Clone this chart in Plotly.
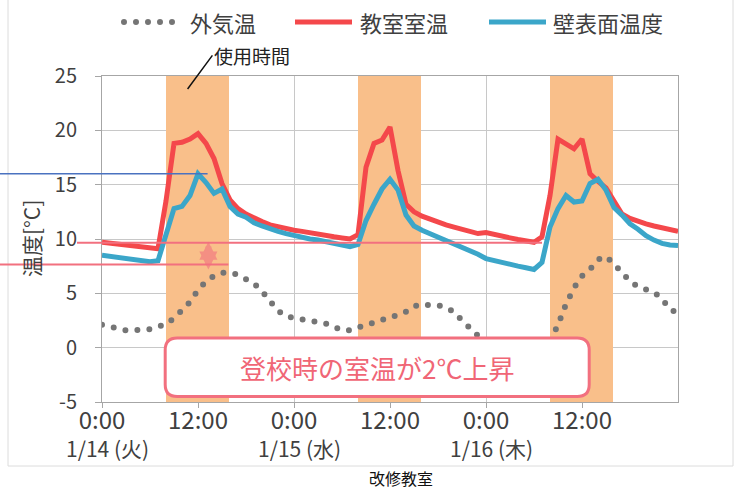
import plotly.graph_objects as go

# ---- data -------------------------------------------------------------
# elapsed hours from 1/14 0:00
hours = list(range(0, 73))

outdoor = [2.1, 1.9, 1.8, 1.6, 1.6, 1.6, 1.7, 1.9, 2.2, 2.7, 3.5, 4.2,
           5.3, 6.1, 6.6, 6.9, 6.9, 6.7, 6.3, 5.9, 5.2, 4.2, 3.4, 2.9,
           2.7, 2.6, 2.5, 2.4, 2.2, 1.9, 1.6, 1.6, 1.9, 2.1, 2.3, 2.6,
           2.8, 3.0, 3.3, 3.8, 4.0, 3.9, 3.9, 3.7, 3.3, 2.5, 1.8, 1.0,
           0.4, 0.0, -0.3, -0.5, -0.6, -0.5, -0.4, -0.2, 0.6, 2.1, 4.0, 5.5,
           6.6, 7.2, 8.1, 8.4, 7.7, 6.9, 6.1, 5.6, 5.4, 5.1, 4.5, 3.5,
           3.2]

room = [9.7, 9.6, 9.5, 9.4, 9.3, 9.2, 9.15, 9.1, 13.5, 18.8, 18.9, 19.2,
        19.7, 18.8, 17.4, 15.1, 13.6, 12.8, 12.3, 11.9, 11.6, 11.3, 11.1, 10.9,
        10.8, 10.7, 10.55, 10.4, 10.3, 10.2, 10.1, 10.0, 10.4, 16.6, 18.8, 19.1,
        20.3, 16.3, 13.2, 12.5, 12.1, 11.8, 11.5, 11.3, 11.1, 10.9, 10.7, 10.5,
        10.6, 10.4, 10.25, 10.1, 9.95, 9.85, 9.7, 10.2, 14.0, 19.2, 18.7, 18.3,
        19.2, 16.0, 15.3, 14.7, 13.5, 12.3, 11.9, 11.6, 11.4, 11.2, 11.05, 10.9,
        10.7]

wall = [8.5, 8.4, 8.3, 8.2, 8.1, 8.0, 7.9, 8.0, 10.3, 12.8, 13.0, 14.0,
        16.0, 15.2, 14.2, 14.6, 13.0, 12.3, 12.0, 11.5, 11.2, 10.9, 10.7, 10.5,
        10.3, 10.15, 10.0, 9.9, 9.75, 9.6, 9.45, 9.3, 9.5, 11.7, 13.2, 14.6,
        15.5, 14.5, 12.2, 11.2, 10.8, 10.5, 10.2, 9.9, 9.6, 9.2, 8.9, 8.6,
        8.2, 8.0, 7.8, 7.65, 7.5, 7.35, 7.2, 7.85, 11.1, 12.8, 14.0, 13.4,
        13.5, 15.1, 15.5, 14.5, 12.9, 12.2, 11.4, 10.9, 10.3, 9.9, 9.6, 9.45,
        9.4]

# classroom usage periods (start, end) in elapsed hours
usage_start = [8.0, 32.0, 56.0]
usage_end = [15.9, 39.9, 63.9]

tick_hours = [0, 12, 24, 36, 48, 60]
tick_text = ["0:00", "12:00", "0:00", "12:00", "0:00", "12:00"]
day_hours = [0, 24, 48]
day_labels = ["1/14 (火)", "1/15 (水)", "1/16 (木)"]
temp_ticks = [-5, 0, 5, 10, 15, 20, 25]

series_names = ["外気温", "教室室温", "壁表面温度"]

# reference levels for the callouts
arrival_before = 7.65   # room temperature at arrival, before renovation
arrival_after = 9.65    # room temperature at arrival, after renovation
wall_peak = 16.0

X_MAX = 72
Y_MIN, Y_MAX = -5, 25

# ---- styling ----------------------------------------------------------
FONT = "Noto Sans CJK JP"
RED = "#f4484b"
BLUE = "#3ba6c9"
GRAY = "#757575"
ORANGE = "#f9bf8a"
PINK = "#f2707f"
TXT = "#404040"
DOT_DASH = "5px,7px"   # restyled to round dots after rendering

ML, MR, MT, MB = 102, 61, 76, 89
W, H = 739, 491
PW, PH = W - ML - MR, H - MT - MB


def px_x(px):
    return (px - ML) / PW


def px_y(py):
    return (H - MB - py) / PH


def hx(h):
    return h / X_MAX


def ty(t):
    return (t - Y_MIN) / (Y_MAX - Y_MIN)


fig = go.Figure()

# usage time bands
fig.add_trace(go.Bar(
    x=[(s + e) / 2 for s, e in zip(usage_start, usage_end)],
    y=[Y_MAX - Y_MIN] * len(usage_start),
    base=[Y_MIN] * len(usage_start),
    width=[e - s for s, e in zip(usage_start, usage_end)],
    marker=dict(color=ORANGE, line=dict(width=0)),
    showlegend=False, hoverinfo="skip",
))

fig.add_trace(go.Scatter(
    x=hours, y=outdoor, mode="lines", name=series_names[0],
    line=dict(color=GRAY, width=6, dash=DOT_DASH), showlegend=False,
))
fig.add_trace(go.Scatter(
    x=hours, y=room, mode="lines", name=series_names[1],
    line=dict(color=RED, width=5), showlegend=False,
))
fig.add_trace(go.Scatter(
    x=hours, y=wall, mode="lines", name=series_names[2],
    line=dict(color=BLUE, width=5), showlegend=False,
))

shapes = []
annotations = []

# chart frame
FRAME = "#dcdcdc"
shapes.append(dict(type="line", xref="paper", yref="paper",
                   x0=px_x(8), x1=px_x(8), y0=px_y(466), y1=px_y(0),
                   line=dict(color=FRAME, width=1)))
shapes.append(dict(type="line", xref="paper", yref="paper",
                   x0=px_x(733), x1=px_x(733), y0=px_y(466), y1=px_y(0),
                   line=dict(color=FRAME, width=1)))
shapes.append(dict(type="line", xref="paper", yref="paper",
                   x0=px_x(8), x1=px_x(733), y0=px_y(466), y1=px_y(466),
                   line=dict(color=FRAME, width=1)))

# custom legend
legend_items = [
    (124, 182, 188, dict(color=GRAY, width=6, dash=DOT_DASH)),
    (295, 352, 358, dict(color=RED, width=5)),
    (489, 546, 551, dict(color=BLUE, width=5)),
]
for name, (a, b, t, ln) in zip(series_names, legend_items):
    shapes.append(dict(type="line", xref="paper", yref="paper",
                       x0=px_x(a), x1=px_x(b), y0=px_y(22), y1=px_y(22),
                       line=ln))
    annotations.append(dict(xref="paper", yref="paper", x=px_x(t), y=px_y(22),
                            text=name, showarrow=False, xanchor="left",
                            yanchor="middle",
                            font=dict(family=FONT, size=22, color=TXT)))

# reference lines reaching into the left margin
shapes.append(dict(type="line", xref="paper", yref="paper",
                   x0=px_x(0), x1=hx(13.2), y0=ty(wall_peak), y1=ty(wall_peak),
                   line=dict(color="#4a72c0", width=1.5), layer="above"))
shapes.append(dict(type="line", xref="paper", yref="paper",
                   x0=px_x(77), x1=hx(55), y0=ty(arrival_after), y1=ty(arrival_after),
                   line=dict(color=PINK, width=2), layer="above"))
shapes.append(dict(type="line", xref="paper", yref="paper",
                   x0=px_x(0), x1=hx(15.8), y0=ty(arrival_before), y1=ty(arrival_before),
                   line=dict(color=PINK, width=2), layer="above"))

# rounded callout box
bx0, bx1, by0, by1 = 7.9, 60.9, -4.5, 0.9
rx = 12 / (PW / X_MAX)
ry = 12 / (PH / (Y_MAX - Y_MIN))
path = (f"M {bx0 + rx},{by1} L {bx1 - rx},{by1} Q {bx1},{by1} {bx1},{by1 - ry} "
        f"L {bx1},{by0 + ry} Q {bx1},{by0} {bx1 - rx},{by0} "
        f"L {bx0 + rx},{by0} Q {bx0},{by0} {bx0},{by0 + ry} "
        f"L {bx0},{by1 - ry} Q {bx0},{by1} {bx0 + rx},{by1} Z")
shapes.append(dict(type="path", xref="x", yref="y", path=path,
                   fillcolor="white", line=dict(color=PINK, width=3),
                   layer="above"))

rise = arrival_after - arrival_before
annotations.append(dict(xref="x", yref="y", x=(bx0 + bx1) / 2, y=(by0 + by1) / 2,
                        text=f"登校時の室温が{rise:.0f}℃上昇", showarrow=False,
                        font=dict(family=FONT, size=26, color="#f06676")))

# up/down arrow between the two arrival levels
annotations.append(dict(xref="x", yref="y", axref="x", ayref="y",
                        x=13.3, y=arrival_after + 0.1, ax=13.3, ay=arrival_before - 0.6,
                        text="", showarrow=True, arrowside="end+start",
                        arrowhead=2, arrowsize=0.6, arrowwidth=6,
                        arrowcolor="rgba(242,112,127,0.6)"))

# usage time label
annotations.append(dict(xref="x", yref="y", axref="x", ayref="y",
                        x=10.7, y=23.8, ax=13.8, ay=26.9,
                        text="使用時間", showarrow=True, arrowhead=0,
                        arrowwidth=1.5, arrowcolor="#111111",
                        xanchor="left", yanchor="middle",
                        font=dict(family=FONT, size=19, color="#222222")))

# date labels under the time ticks
for d, lab in zip(day_hours, day_labels):
    annotations.append(dict(xref="x", yref="paper", x=d, y=px_y(448),
                            xshift=5, text=lab, showarrow=False,
                            xanchor="center", yanchor="middle",
                            font=dict(family=FONT, size=21, color=TXT)))

# y axis title
annotations.append(dict(xref="paper", yref="paper", x=px_x(31), y=0.5,
                        text="温度[°C]", textangle=-90, showarrow=False,
                        xanchor="center", yanchor="middle",
                        font=dict(family=FONT, size=21, color=TXT)))

# caption
annotations.append(dict(xref="paper", yref="paper", x=px_x(401), y=px_y(478),
                        text="改修教室", showarrow=False,
                        xanchor="center", yanchor="middle",
                        font=dict(family=FONT, size=16, color="#111111")))

AX = "#a6a6a6"
GRID = "#c8c8c8"
fig.update_layout(
    width=W, height=H,
    margin=dict(l=ML, r=MR, t=MT, b=MB),
    paper_bgcolor="white", plot_bgcolor="white",
    showlegend=False,
    bargap=0,
    shapes=shapes, annotations=annotations,
    font=dict(family=FONT, color=TXT),
    xaxis=dict(range=[0, X_MAX], tickvals=tick_hours, ticktext=tick_text,
               showgrid=True, gridcolor=GRID, gridwidth=1,
               showline=True, linecolor=AX, linewidth=1, mirror=True,
               ticks="outside", ticklen=5, tickcolor=AX,
               ticklabelstandoff=-8,
               tickfont=dict(family=FONT, size=24, color=TXT),
               zeroline=False, fixedrange=True),
    yaxis=dict(range=[Y_MIN, Y_MAX], tickvals=temp_ticks,
               ticktext=[str(v) for v in temp_ticks],
               showgrid=True, gridcolor=GRID, gridwidth=1,
               showline=True, linecolor=AX, linewidth=1, mirror=True,
               ticks="outside", ticklen=6, tickcolor=AX,
               ticklabelstandoff=14,
               tickfont=dict(family=FONT, size=20, color=TXT),
               zeroline=False, fixedrange=True),
)

# turn the dashed outdoor line (and its legend sample) into round dots
round_dots = """
var gd = document.getElementById('{plot_id}');
function roundDots() {
  gd.querySelectorAll('path').forEach(function (p) {
    var d = p.style.strokeDasharray || '';
    if (d.replace(/\\s/g, '') === '5px,7px') {
      p.style.strokeDasharray = '0px 12px';
      p.style.strokeLinecap = 'round';
    }
  });
}
roundDots();
gd.on('plotly_afterplot', roundDots);
"""

fig.write_html("out.html", post_script=round_dots)
